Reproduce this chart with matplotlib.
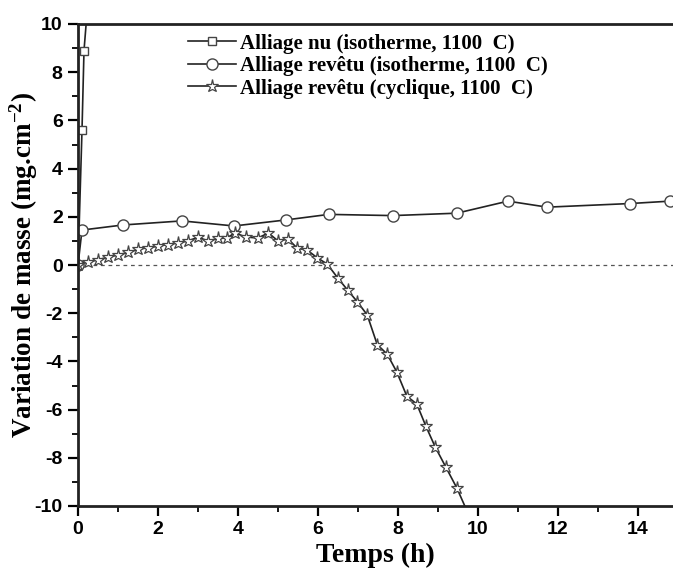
import matplotlib
matplotlib.use('Agg')
import matplotlib.pyplot as plt
from matplotlib.ticker import MultipleLocator

plt.rcParams['axes.unicode_minus'] = False
plt.rcParams['mathtext.fontset'] = 'custom'
plt.rcParams['mathtext.rm'] = 'Liberation Serif:bold'
plt.rcParams['mathtext.bf'] = 'Liberation Serif:bold'
plt.rcParams['mathtext.default'] = 'bf'

# bare alloy, isothermal
nu_t = [0.0, 0.1, 0.15, 0.3]
nu_m = [0.0, 5.6, 8.9, 12.0]

# coated alloy, isothermal
iso_t = [0.0, 0.1, 1.12, 2.6, 3.9, 5.2, 6.27, 7.87, 9.47, 10.75, 11.73, 13.8, 14.8]
iso_m = [0.0, 1.45, 1.66, 1.83, 1.62, 1.87, 2.1, 2.05, 2.15, 2.65, 2.4, 2.55, 2.65]

# coated alloy, cyclic
cyc_t = [0.0, 0.25, 0.5, 0.75, 1.0, 1.25, 1.5, 1.75, 2.0, 2.25, 2.5, 2.75, 3.0,
         3.25, 3.5, 3.72, 3.92, 4.2, 4.5, 4.76, 5.0, 5.25, 5.48, 5.73, 5.98,
         6.23, 6.5, 6.74, 6.98, 7.23, 7.48, 7.73, 7.97, 8.22, 8.47, 8.7, 8.93,
         9.2, 9.47, 9.75]
cyc_m = [0.02, 0.12, 0.22, 0.32, 0.42, 0.52, 0.65, 0.72, 0.78, 0.85, 0.92, 1.0, 1.15,
         1.0, 1.1, 1.12, 1.33, 1.16, 1.12, 1.33, 1.0, 1.08, 0.7, 0.62, 0.3,
         0.04, -0.55, -1.04, -1.52, -2.07, -3.3, -3.7, -4.44, -5.44, -5.77, -6.7, -7.55,
         -8.4, -9.25, -10.3]

labels = ['Alliage nu (isotherme, 1100  C)',
          'Alliage revêtu (isotherme, 1100  C)',
          'Alliage revêtu (cyclique, 1100  C)']

fig = plt.figure(figsize=(6.73, 5.78), dpi=100)
ax = fig.add_axes([78/673, 1 - 506/578, 1 - 78/673, (506 - 24)/578])

ax.axhline(0, color='#555555', lw=0.9, ls=(0, (3, 3)), zorder=1)

ax.plot(nu_t, nu_m, color='#222222', lw=1.2, marker='s', ms=6, mfc='white',
        mec='#444444', mew=1.0, label=labels[0])
ax.plot(iso_t, iso_m, color='#222222', lw=1.2, marker='o', ms=8, mfc='white',
        mec='#444444', mew=1.0, label=labels[1])
ax.plot(cyc_t, cyc_m, color='#222222', lw=1.2, marker='*', ms=9.5, mfc='white',
        mec='#444444', mew=0.9, label=labels[2])

ax.set_xlim(0, 14.875)
ax.set_ylim(-10, 10)
ax.xaxis.set_major_locator(MultipleLocator(2))
ax.xaxis.set_minor_locator(MultipleLocator(1))
ax.yaxis.set_major_locator(MultipleLocator(2))
ax.yaxis.set_minor_locator(MultipleLocator(1))
ax.tick_params(which='major', direction='out', length=7, width=1.6, labelsize=14, pad=4)
ax.tick_params(which='minor', direction='out', length=4, width=1.3)
for lab in ax.get_xticklabels() + ax.get_yticklabels():
    lab.set_fontweight('bold')
    lab.set_family('Liberation Sans')

for s in ['left', 'bottom', 'top']:
    ax.spines[s].set_linewidth(2.0)
    ax.spines[s].set_color('#222222')
ax.spines['right'].set_visible(False)

ax.set_xlabel('Temps (h)', fontsize=20, fontweight='bold', family='Liberation Serif', labelpad=3)
ax.set_ylabel('Variation de masse (mg.cm$^{-2}$)', fontsize=19.5, fontweight='bold',
              family='Liberation Serif')
ax.yaxis.set_label_coords(-0.064, 0.5)

leg = ax.legend(loc='upper left', bbox_to_anchor=(0.185, 0.98), frameon=False, borderpad=0,
                borderaxespad=0,
                prop={'family': 'Liberation Serif', 'weight': 'bold', 'size': 15},
                handlelength=2.3, handletextpad=0.2, labelspacing=0.12, markerscale=1.0)

fig.savefig('out.png', dpi=100)
